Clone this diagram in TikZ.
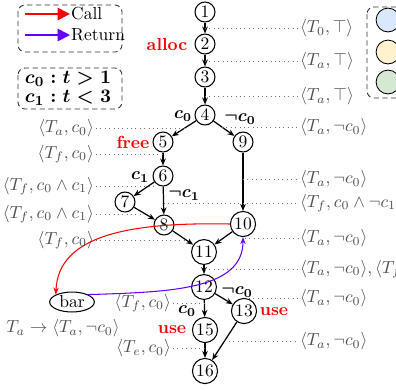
\documentclass[tikz,border=0pt]{standalone}
\usetikzlibrary{arrows.meta,shapes.geometric}
\definecolor{callred}{RGB}{255,0,0}
\definecolor{retpurple}{RGB}{100,0,255}
\definecolor{lblgray}{RGB}{80,80,80}
\definecolor{lgblue}{RGB}{218,232,252}
\definecolor{lgyellow}{RGB}{255,242,204}
\definecolor{lggreen}{RGB}{213,232,212}
\begin{document}
\begin{tikzpicture}[x=0.571pt,y=-0.571pt,
  cfg/.style={circle,draw,line width=0.6pt,minimum size=11.4pt,inner sep=0.8pt,font=\normalsize},
  edge/.style={-{Stealth[length=4pt,width=3.2pt]},line width=0.7pt},
  lbl/.style={text=lblgray,inner sep=1pt},
  dot/.style={dotted,lblgray!80,line width=0.5pt},
  kw/.style={text=callred,font=\bfseries,inner sep=1pt},
  cond/.style={inner sep=1pt,font=\boldmath},
  defn/.style={inner sep=1pt,font=\fontsize{11}{13}\selectfont\boldmath},
  call/.style={callred,line width=0.6pt,-{Stealth[length=4pt,width=3pt]}},
  ret/.style={retpurple,line width=0.6pt,-{Stealth[length=4pt,width=3pt]}},
  legbox/.style={draw=black!80,densely dashed,rounded corners=4pt,line width=0.5pt},
  legcirc/.style={circle,draw,line width=0.5pt,minimum size=13.6pt,inner sep=0pt}]
\useasboundingbox (0,0) rectangle (396,390);

% legend boxes
\draw[legbox] (18,5) rectangle (122,52);
\coordinate (ca) at (25,14); \coordinate (cb) at (70,14);
\coordinate (ra) at (25,35); \coordinate (rb) at (70,35);
\draw[callred,line width=1pt,-{Triangle[length=7pt,width=7pt]}] (ca) -- (cb);
\draw[retpurple,line width=1pt,-{Triangle[length=7pt,width=7pt]}] (ra) -- (rb);
\node[anchor=west,inner sep=0.5pt] (tcall) at (70,14) {Call};
\node[anchor=west,inner sep=0.5pt] (tret) at (70,35) {Return};

\draw[legbox] (18,68) rectangle (122,109);
\node[defn] (c0def) at (68,79) {$c_0: t>1$};
\node[defn] (c1def) at (68,98) {$c_1: t<3$};

\draw[legbox] (367,7) rectangle (430,98);
\node[legcirc,fill=lgblue] (gb) at (388,20) {};
\node[legcirc,fill=lgyellow] (gy) at (388,52) {};
\node[legcirc,fill=lggreen] (gg) at (388,82) {};

% CFG nodes
\node[cfg] (n1) at (205,12) {1};
\node[cfg] (n2) at (205,44) {2};
\node[cfg] (n3) at (205,77) {3};
\node[cfg] (n4) at (205,115) {4};
\node[cfg] (n5) at (163,142) {5};
\node[cfg] (n6) at (163,176) {6};
\node[cfg] (n7) at (125,202) {7};
\node[cfg] (n8) at (164,225) {8};
\node[cfg] (n9) at (243,142) {9};
\node[cfg] (n10) at (243,224) {10};
\node[cfg] (n11) at (204,252) {11};
\node[cfg] (n12) at (204,287) {12};
\node[cfg] (n13) at (244,311) {13};
\node[cfg] (n15) at (205,330) {15};
\node[cfg] (n16) at (205,371) {16};
\node[ellipse,draw,line width=0.6pt,minimum width=25.5pt,minimum height=10.5pt,inner sep=0.5pt] (bar) at (72,302) {bar};

% edges
\draw[edge] (n1) -- (n2);
\draw[edge] (n2) -- (n3);
\draw[edge] (n3) -- (n4);
\draw[edge] (n4) -- (n5);
\draw[edge] (n4) -- (n9);
\draw[edge] (n5) -- (n6);
\draw[edge] (n6) -- (n7);
\draw[edge] (n6) -- (n8);
\draw[edge] (n7) -- (n8);
\draw[edge] (n9) -- (n10);
\draw[edge] (n8) -- (n11);
\draw[edge] (n10) -- (n11);
\draw[edge] (n11) -- (n12);
\draw[edge] (n12) -- (n15);
\draw[edge] (n12) -- (n13);
\draw[edge] (n15) -- (n16);
\draw[edge] (n13) -- (n16);

% call / return
\draw[call] (n10.west) .. controls (130,222) and (58,235) .. (bar.north west);
\draw[ret] (bar.north east) .. controls (170,292) and (243,290) .. (n10.south);

% keywords
\node[kw] (kalloc) at (167,44) {alloc};
\node[kw] (kfree) at (133,142) {free};
\node[kw] (kuse1) at (172,330) {use};
\node[kw] (kuse2) at (274,312) {use};

% branch conditions
\node[cond] (b1) at (183,116) {$c_0$};
\node[cond] (b2) at (240,119) {$\neg c_0$};
\node[cond] (b3) at (140,177) {$c_1$};
\node[cond] (b4) at (184,195) {$\neg c_1$};
\node[cond] (b5) at (237,292) {$\neg c_0$};
\node[cond] (b6) at (187,311) {$c_0$};

% right labels
\node[lbl,anchor=west] (r1) at (298,28) {$\langle T_0,\top\rangle$};
\node[lbl,anchor=west] (r2) at (298,61) {$\langle T_a,\top\rangle$};
\node[lbl,anchor=west] (r3) at (298,96) {$\langle T_a,\top\rangle$};
\node[lbl,anchor=west] (r4) at (298,127) {$\langle T_a,\neg c_0\rangle$};
\node[lbl,anchor=west] (r5) at (298,179) {$\langle T_a,\neg c_0\rangle$};
\node[lbl,anchor=west] (r6) at (298,203) {$\langle T_f,c_0\wedge\neg c_1\rangle$};
\node[lbl,anchor=west] (r7) at (298,238) {$\langle T_a,\neg c_0\rangle$};
\node[lbl,anchor=west] (r8) at (298,269) {$\langle T_a,\neg c_0\rangle,\langle T_f,c_0\rangle$};
\node[lbl,anchor=west] (r9) at (298,298) {$\langle T_a,\neg c_0\rangle$};
\node[lbl,anchor=west] (r10) at (298,341) {$\langle T_a,\neg c_0\rangle$};
\coordinate (p1) at (205,28);
\coordinate (p2) at (205,61);
\coordinate (p3) at (205,96);
\coordinate (p4) at (222,127);
\coordinate (p5) at (243,179);
\coordinate (p6) at (164,203);
\coordinate (p7) at (245,238);
\coordinate (p8) at (205,269);
\coordinate (p9) at (249,298);
\coordinate (p10) at (229,341);
\foreach \i in {1,...,10} \draw[dot] (p\i) -- (r\i.west);

% left labels
\node[lbl,anchor=east] (l1) at (96,128) {$\langle T_a,c_0\rangle$};
\node[lbl,anchor=east] (l2) at (96,154) {$\langle T_f,c_0\rangle$};
\node[lbl,anchor=east] (l3) at (96,186) {$\langle T_f,c_0\wedge c_1\rangle$};
\node[lbl,anchor=east] (l4) at (96,214) {$\langle T_f,c_0\wedge c_1\rangle$};
\node[lbl,anchor=east] (l5) at (96,240) {$\langle T_f,c_0\rangle$};
\node[lbl,anchor=east] (l6) at (173,303) {$\langle T_f,c_0\rangle$};
\node[lbl,anchor=east] (l7) at (173,348) {$\langle T_e,c_0\rangle$};
\coordinate (q1) at (185,128);
\coordinate (q2) at (163,154);
\coordinate (q3) at (153,186);
\coordinate (q4) at (144,214);
\coordinate (q5) at (184,240);
\coordinate (q6) at (205,303);
\coordinate (q7) at (205,348);
\foreach \i in {1,...,7} \draw[dot] (l\i.east) -- (q\i);

\node[lbl] (summ) at (63,328) {$T_a\rightarrow\langle T_a,\neg c_0\rangle$};
\end{tikzpicture}
\end{document}
